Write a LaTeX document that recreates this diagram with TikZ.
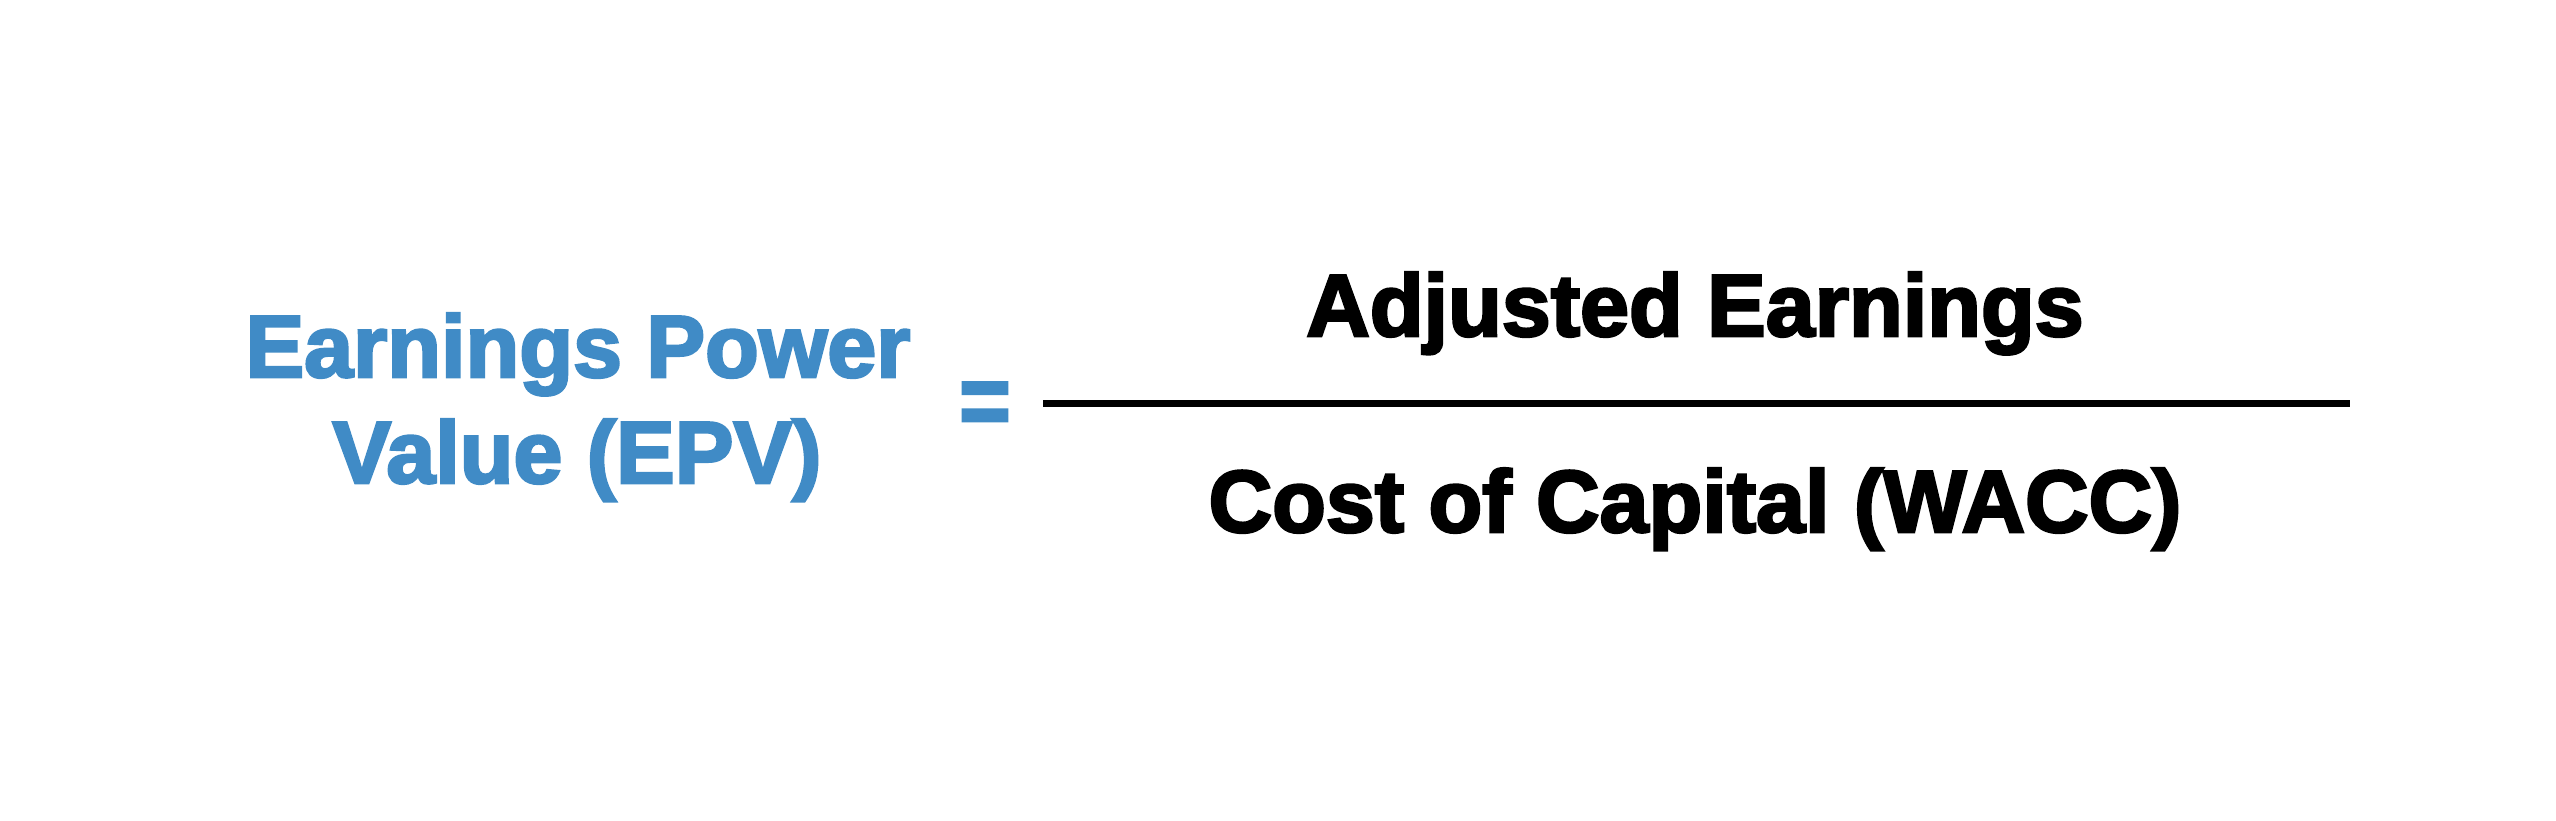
\documentclass[tikz,border=0pt]{standalone}
\usepackage{fontspec}
\setmainfont{Liberation Sans}[BoldFeatures={FakeBold=3}]
\definecolor{epvblue}{RGB}{64,139,198}
\begin{document}
\begin{tikzpicture}[x=1pt,y=1pt,
  lbl/.style={inner sep=0pt,anchor=base,font=\fontsize{88}{100}\selectfont\bfseries},
  bluelbl/.style={lbl,text=epvblue},
  blacklbl/.style={lbl,text=black},
  fracline/.style={line width=7pt,black}]
\useasboundingbox[fill=white] (0,0) rectangle (2556,820);
\node[bluelbl] (epv1) at (578,443) {Earnings Power};
\node[bluelbl] (epv2) at (577,337) {Value (EPV)};
\node[bluelbl,anchor=center,yscale=1.15] (eq) at (985,411) {=};
\node[blacklbl] (num) at (1695,484) {Adjusted Earnings};
\node[blacklbl] (den) at (1695,288) {Cost of Capital (WACC)};
\coordinate (lineL) at (1043,416.5);
\coordinate (lineR) at (2350,416.5);
\draw[fracline] (lineL) -- (lineR);
\end{tikzpicture}
\end{document}
